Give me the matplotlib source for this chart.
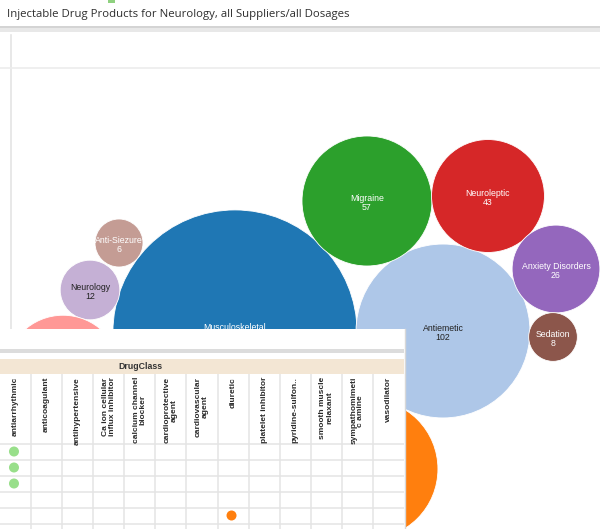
import numpy as np
import matplotlib.pyplot as plt
from matplotlib.patches import Circle, Rectangle

plt.rcParams['font.family'] = ['Liberation Sans', 'DejaVu Sans']

# bubble chart data (packed layout centres, in screen pixels)
bubble_names = ['Musculoskeletal', 'Antiemetic', 'Migraine', 'Neuroleptic', 'Anxiety Disorders',
                'Sedation', 'Anti-Siezure', 'Neurology', '', '']
bubble_values = [201, 102, 57, 43, 26, 8, 6, 12, 45, 66]
bubble_x = [235, 443, 367, 488, 556, 553, 119, 90, 63, 368]
bubble_y = [332, 331, 201, 196, 269, 337, 243, 290, 373, 469]
bubble_colors = ['#1f77b4', '#aec7e8', '#2ca02c', '#d62728', '#9467bd',
                 '#8c564b', '#c49c94', '#c5b0d5', '#ff9896', '#ff7f0e']
dark_text = ['Antiemetic', 'Neurology']
hidden_value = ['Musculoskeletal']

# table overlay data
drug_classes = ['antiarrhythmic', 'anticoagulant', 'antihypertensive',
                'Ca ion cellular\ninflux inhibitor', 'calcium channel\nblocker',
                'cardioprotective\nagent', 'cardiovascular\nagent', 'diuretic',
                'platelet inhibitor', 'pyridine-sulfon..', 'smooth muscle\nrelaxant',
                'sympathomimeti\nc amine', 'vasodilator']
dot_col = [0, 0, 0, 7]
dot_row = [0, 1, 2, 4]
dot_colors = ['#98df8a', '#98df8a', '#98df8a', '#ff7f0e']
n_rows = 6

fig = plt.figure(figsize=(6, 5.29), dpi=100)
ax = fig.add_axes([0, 0, 1, 1])
ax.set_xlim(0, 600)
ax.set_ylim(529, 0)
ax.axis('off')

# header
ax.add_patch(Rectangle((108, 0), 7, 2.5, color='#8fd17f', lw=0))
ax.text(7, 15, 'Injectable Drug Products for Neurology, all Suppliers/all Dosages',
        family=['Open Sans', 'DejaVu Sans'], fontsize=8.2, color='#2e2e2e', va='center', ha='left',
        fontweight='medium')
ax.add_patch(Rectangle((0, 26), 600, 1.5, color='#d4d4d4', lw=0))
ax.add_patch(Rectangle((0, 27.5), 600, 4.5, color='#e8e8e8', lw=0))
ax.plot([11, 11], [35, 329], color='#e4e4e4', lw=1.2)
ax.plot([0, 600], [68, 68], color='#ececec', lw=1.2)

k = 65 / np.sqrt(57)
min_r = 24
for name, v, x, y, c in zip(bubble_names, bubble_values, bubble_x, bubble_y, bubble_colors):
    r = max(k * np.sqrt(v), min_r)
    circ = Circle((x, y), r, facecolor=c, edgecolor='white', lw=0.6, zorder=2)
    ax.add_patch(circ)
    if not name:
        continue
    if name in hidden_value:
        label, ty = name, y - 5
    else:
        label, ty = f'{name}\n{v}', y + 2
    tc = '#222222' if name in dark_text else 'white'
    t = ax.text(x, ty, label, ha='center', va='center', fontsize=6.3, color=tc,
                linespacing=1.05, zorder=3)
    t.set_clip_path(circ)

# overlay panel
ax.add_patch(Rectangle((0, 329), 406, 200, facecolor='white', edgecolor='none', zorder=10))
ax.plot([405, 405], [329, 529], color='#d8d8d8', lw=1, zorder=11)
ax.add_patch(Rectangle((0, 349), 404, 3.5, color='#dcdcdc', lw=0, zorder=11))
ax.add_patch(Rectangle((0, 359), 404, 15, color='#f3e6d4', lw=0, zorder=11))
ax.text(140, 366.5, 'DrugClass', ha='center', va='center', fontsize=6.3, color='#333333',
        fontweight='bold', zorder=12)

# table grid
tab = fig.add_axes([0, 0, 404 / 600, (529 - 374) / 529], zorder=5)
tab.set_xlim(0, len(drug_classes))
tab.set_ylim(529, 374)
tab.axis('off')
tab.patch.set_alpha(0)
head_bottom = 444
row_h = 16
for i in range(1, len(drug_classes)):
    tab.plot([i, i], [374, 529], color='#e4e4e4', lw=1.1)
for j in range(n_rows):
    tab.plot([0, len(drug_classes)], [head_bottom + j * row_h] * 2, color='#e4e4e4', lw=1.1)
for i, name in enumerate(drug_classes):
    tab.text(i + 0.5, 377, name, rotation=90, ha='center', va='top', fontsize=6.0,
             color='#2a2a2a', fontweight='bold', linespacing=1.0, multialignment='center')
tab.scatter(np.array(dot_col) + 0.45, head_bottom + row_h * (np.array(dot_row) + 0.5) - 0.5,
            s=52, c=dot_colors, edgecolors='none', zorder=3)

fig.savefig('out.png', dpi=100)
